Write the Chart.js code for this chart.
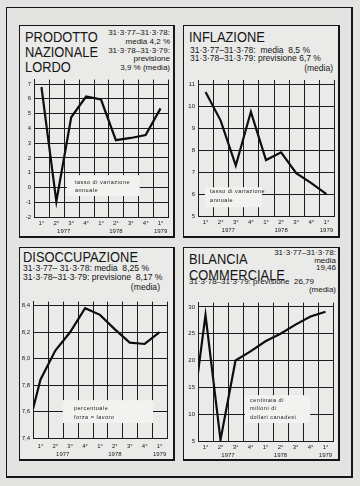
<!DOCTYPE html>
<html>
<head>
<meta charset="utf-8">
<script src="https://cdn.jsdelivr.net/npm/chart.js@4.4.1/dist/chart.umd.min.js"></script>
<style>
  html, body { margin: 0; padding: 0; }
  body {
    width: 360px; height: 486px; position: relative; overflow: hidden;
    background: #e3e3e1; color: #151515;
    font-family: "Liberation Sans", Arial, sans-serif;
  }
  .frame, .panel { position: absolute; box-sizing: border-box; border: 1px solid #161616; border-right-width: 2px; border-bottom-width: 2px; }
  .frame { left: 6px; top: 7px; width: 347px; height: 471px; }
  .panel { background: #eaeae8; }
  .title { position: absolute; font-size: 14px; line-height: 15px; white-space: nowrap; transform: scaleX(0.92); transform-origin: 0 0; }
  .sub { position: absolute; font-size: 8px; line-height: 8.6px; white-space: nowrap; }
  .r { text-align: right; }
  canvas { position: absolute; }
</style>
</head>
<body>
<div class="frame"></div>
<div class="panel" style="left:19px;top:25px;width:156px;height:213px"></div>
<div class="panel" style="left:183px;top:25px;width:157px;height:213px"></div>
<div class="panel" style="left:19px;top:247px;width:156px;height:214px"></div>
<div class="panel" style="left:183px;top:247px;width:157px;height:214px"></div>

<div class="title" style="left:25px;top:30px">PRODOTTO<br>NAZIONALE<br>LORDO</div>
<div class="sub r" style="right:190px;top:29px;line-height:8.8px">31·3·77–31·3·78:<br>media 4,2 %<br>31·3·78–31·3·79:<br>previsione<br>3,9 % (media)</div>

<div class="title" style="left:189px;top:30px">INFLAZIONE</div>
<div class="sub" style="left:190px;top:46px;line-height:8.3px;font-size:8.5px">31·3·77–31·3·78:&nbsp; media&nbsp; 8,5 %<br>31·3·78–31·3·79: previsione 6,7 %</div>
<div class="sub r" style="right:27px;top:64px;font-size:8.5px">(media)</div>

<div class="title" style="left:23px;top:250px">DISOCCUPAZIONE</div>
<div class="sub" style="left:23px;top:264px;line-height:9px;font-size:8.6px">31·3·77– 31·3·78: media&nbsp; 8,25 %<br>31·3·78–31·3·79: previsione&nbsp; 8,17 %</div>
<div class="sub r" style="right:200px;top:283px;font-size:8.6px">(media)</div>

<div class="title" style="left:189px;top:251px;line-height:16px">BILANCIA<br>COMMERCIALE</div>
<div class="sub r" style="right:24px;top:249px;line-height:7.6px">31·3·77–31·3·78:<br>media<br>19,46</div>
<div class="sub" style="left:189px;top:278px">31·3·78–31·3·79: previsione&nbsp; 26,79</div>
<div class="sub r" style="right:24px;top:286px">(media)</div>

<canvas id="pnl" width="154" height="163" style="left:20px;top:73px"></canvas>
<canvas id="infl" width="155" height="163" style="left:184px;top:73px"></canvas>
<canvas id="dis" width="154" height="164" style="left:20px;top:295px"></canvas>
<canvas id="bil" width="155" height="163" style="left:184px;top:296px"></canvas>

<script>
// quarters 1977 - 1° 1979
const quarterLabels = ['1°', '2°', '3°', '4°', '1°', '2°', '3°', '4°', '1°'];
const yearLabels = ['1977', '1978', '1979'];
const yearAt = [2, 5.5, 8.5];

// values
const pnlValues = [6.8, -0.95, 4.75, 6.15, 5.95, 3.2, 3.35, 3.55, 5.35];
const inflValues = [10.65, 9.35, 7.3, 9.75, 7.55, 7.9, 6.95, 6.5, 6.0];
const disStart = 7.62;
const disValues = [7.84, 8.06, 8.2, 8.38, 8.33, 8.22, 8.12, 8.11, 8.2];
const bilStart = 17.7;
const bilValues = [28.5, 5.2, 20.0, 21.7, 23.6, 25.0, 26.7, 28.2, 29.1];

const pnlTicks = [-2, -1, 0, 1, 2, 3, 4, 5, 6, 7];
const inflTicks = [5, 6, 7, 8, 9, 10, 11];
const disTicks = [7.4, 7.6, 7.8, 8.0, 8.2, 8.4];
const bilTicks = [5, 10, 15, 20, 25, 30];

const lineCol = '#1c1c1c';
const textCol = '#1a1a1a';
const family = '"Liberation Sans", Arial, sans-serif';

// white label boxes inside the plots (data units)
const notes = {
    pnl: { box: [2.2, 7.1, 0.83, -0.58], at: [2.75, [0.36, -0.18]], lines: ['tasso di variazione', 'annuale'] },
    infl: { box: [0.46, 4.24, 6.31, 5.4], at: [0.8, [6.13, 5.72]], lines: ['tasso di variazione', 'annuale'] },
    dis: { box: [2.0, 8.06, 7.686, 7.513], at: [2.75, [7.626, 7.558]], lines: ['percentuale', 'forza = lavoro'] },
    bil: { box: [3.13, 7.47, 13.54, 8.34], at: [3.47, [12.6, 11.12, 9.45]], lines: ['centinaia di', 'milioni di', 'dollari canadesi'] }
};

// vertical grid at quarter boundaries, then the label box over it
const gridPlugin = {
    id: 'quarterGrid',
    beforeDatasetsDraw(chart) {
        const x = chart.scales.x, y = chart.scales.y, ctx = chart.ctx;
        const area = chart.chartArea;
        ctx.save();
        ctx.strokeStyle = lineCol;
        ctx.lineWidth = 1;
        ctx.beginPath();
        for (let v = x.min; v <= x.max; v++) {
            const px = Math.round(x.getPixelForValue(v)) + 0.5;
            ctx.moveTo(px, area.top);
            ctx.lineTo(px, area.bottom);
        }
        ctx.stroke();

        const o = notes[chart.canvas.id];
        if (o) {
            const l = x.getPixelForValue(o.box[0]), r = x.getPixelForValue(o.box[1]);
            const t = y.getPixelForValue(o.box[2]), b = y.getPixelForValue(o.box[3]);
            ctx.fillStyle = '#f2f2f0';
            ctx.fillRect(l, t, r - l, b - t);
            ctx.fillStyle = textCol;
            ctx.font = '5.5px ' + family;
            ctx.letterSpacing = '0.5px';
            ctx.textBaseline = 'middle';
            o.lines.forEach((s, i) => ctx.fillText(s, x.getPixelForValue(o.at[0]), y.getPixelForValue(o.at[1][i])));
        }
        ctx.restore();
    }
};

function toPoints(values, start) {
    const pts = values.map((v, i) => ({ x: i + 0.5, y: v }));
    if (start !== undefined) pts.unshift({ x: 0, y: start });
    return pts;
}

function xLabel(v) {
    const q = v - 0.5;
    const first = Number.isInteger(q) ? quarterLabels[q] : '';
    const yi = yearAt.indexOf(v);
    if (yi >= 0) return [first, yearLabels[yi]];
    return first;
}

const xTickValues = [];
for (let v = 0; v <= 9; v += 0.5) xTickValues.push(v);

function makeChart(id, o) {
    return new Chart(document.getElementById(id), {
        type: 'line',
        data: {
            datasets: [{
                data: o.points,
                borderColor: '#0e0e0e',
                borderWidth: 2.2,
                pointRadius: 0,
                tension: o.tension || 0,
                fill: false
            }]
        },
        options: {
            responsive: false,
            animation: false,
            events: [],
            layout: { padding: { top: o.padTop, right: o.padRight, left: 0, bottom: 0 } },
            plugins: { legend: { display: false }, tooltip: { enabled: false } },
            scales: {
                x: {
                    type: 'linear', min: 0, max: 9,
                    afterBuildTicks: s => { s.ticks = xTickValues.map(v => ({ value: v })); },
                    afterFit: s => { s.height = o.xHeight; },
                    grid: { color: 'rgba(0,0,0,0)', drawTicks: false },
                    border: { display: true, color: lineCol, width: 1 },
                    ticks: {
                        autoSkip: false, maxRotation: 0, padding: o.xPad, color: textCol,
                        font: { size: 6, family: family, lineHeight: 1.35 },
                        callback: v => xLabel(v)
                    }
                },
                y: {
                    min: o.yMin, max: o.yMax,
                    afterBuildTicks: s => { s.ticks = o.yTicks.map(v => ({ value: v })); },
                    afterFit: s => { s.width = o.yWidth; },
                    grid: { color: lineCol, lineWidth: 1, drawTicks: false },
                    border: { display: true, color: lineCol, width: 1 },
                    ticks: {
                        padding: 3, color: textCol,
                        font: { size: 6, family: family },
                        callback: v => o.fmt ? o.fmt(v) : String(v)
                    }
                }
            }
        },
        plugins: [gridPlugin]
    });
}

makeChart('pnl', { points: toPoints(pnlValues), yTicks: pnlTicks, yMin: -2, yMax: 7.3,
    padTop: 6, padRight: 6, yWidth: 14, xHeight: 19, xPad: 2 });
makeChart('infl', { points: toPoints(inflValues), yTicks: inflTicks, yMin: 5, yMax: 11.2,
    padTop: 7, padRight: 5, yWidth: 14, xHeight: 20, xPad: 2 });
makeChart('dis', { points: toPoints(disValues, disStart), yTicks: disTicks, yMin: 7.4, yMax: 8.43,
    padTop: 6, padRight: 7, yWidth: 13, xHeight: 21, xPad: 4,
    fmt: v => v.toFixed(1).replace('.', ',') });
makeChart('bil', { points: toPoints(bilValues, bilStart), yTicks: bilTicks, yMin: 5, yMax: 30.8,
    padTop: 6, padRight: 6, yWidth: 14, xHeight: 18, xPad: 2 });
</script>
</body>
</html>
